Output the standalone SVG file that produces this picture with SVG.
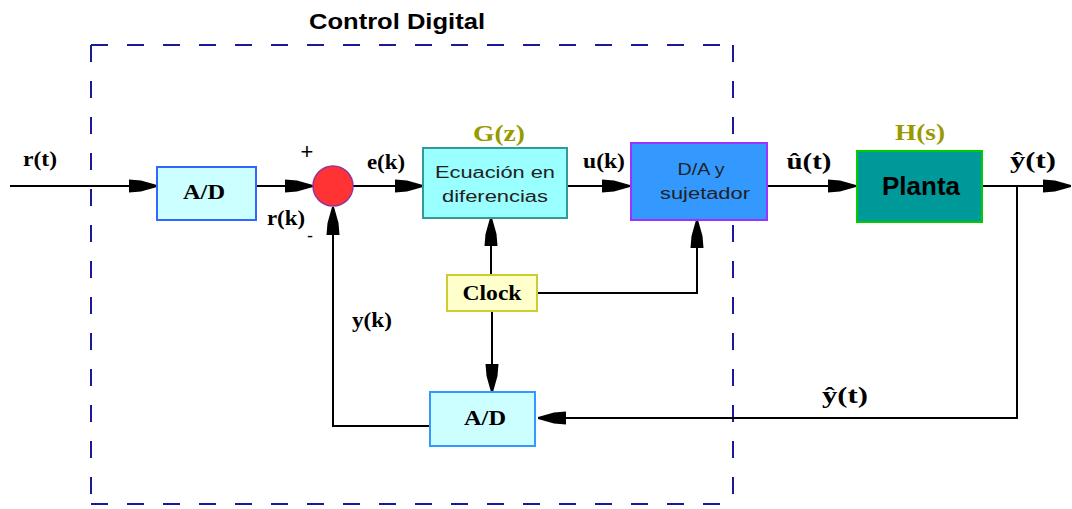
<svg xmlns="http://www.w3.org/2000/svg" width="1072" height="509" viewBox="0 0 1072 509">
<defs>
<marker id="ah" markerUnits="userSpaceOnUse" markerWidth="30" markerHeight="16" viewBox="-28 -8 30 16" refX="0" refY="0" orient="auto">
<path d="M-28,-6.5 L-16,-5.5 L0,-1 L0,1 L-16,5.5 L-28,6.5 Z" fill="#000"/>
</marker>
<style>
.ln{fill:none;stroke:#000;stroke-width:2}
.ar{marker-end:url(#ah)}
.lbl{font-family:"Liberation Serif","Times New Roman",serif;font-weight:bold;font-size:20px;fill:#000;text-anchor:middle}
.big{font-family:"Liberation Serif","Times New Roman",serif;font-weight:bold;font-size:24px;text-anchor:middle}
.sans{font-family:"Liberation Sans",Arial,sans-serif;font-size:16px;fill:#222;text-anchor:middle}
</style>
</defs>
<rect width="1072" height="509" fill="#fff"/>
<g id="frame">
<path d="M91,45 H733 M91,45 V503 M733,45 V503 M91,504 H733" fill="none" stroke="#1a1a99" stroke-width="2" stroke-dasharray="17 19"/>
<text x="397" y="29" font-family="Liberation Sans,Arial,sans-serif" font-weight="bold" font-size="22" text-anchor="middle" textLength="176" lengthAdjust="spacingAndGlyphs">Control Digital</text>
</g>
<g id="connectors">
<path class="ln ar" d="M10,186 H157"/>
<path class="ln ar" d="M256,186 H313"/>
<path class="ln ar" d="M353,186 H423"/>
<path class="ln ar" d="M567,186 H630"/>
<path class="ln ar" d="M767,186 H856"/>
<path class="ln ar" d="M982,186 H1071"/>
<path class="ln ar" d="M491,275 V218"/>
<path class="ln ar" d="M537,293 H697 V220"/>
<path class="ln ar" d="M492,311 V392"/>
<path class="ln ar" d="M430,426 H333 V207"/>
<path class="ln ar" d="M1017,186 V418 H538"/>
</g>
<g id="ad1">
<rect x="157" y="167" width="99" height="53" fill="#ccffff" stroke="#3366ff" stroke-width="2"/>
<text class="lbl" x="204" y="199" textLength="42" lengthAdjust="spacingAndGlyphs">A/D</text>
</g>
<g id="sum">
<circle cx="333" cy="186" r="20" fill="#ff3333" stroke="#993399" stroke-width="1.5"/>
<text x="307" y="159" font-family="Liberation Sans,Arial,sans-serif" font-size="22" text-anchor="middle">+</text>
<text x="310" y="242" font-family="Liberation Sans,Arial,sans-serif" font-size="18" text-anchor="middle">-</text>
</g>
<g id="gz">
<rect x="423" y="148" width="144" height="70" fill="#99ffff" stroke="#339999" stroke-width="2"/>
<text class="big" x="499" y="141" fill="#999900" textLength="52" lengthAdjust="spacingAndGlyphs">G(z)</text>
<text class="sans" x="495" y="178" textLength="120" lengthAdjust="spacingAndGlyphs">Ecuación en</text>
<text class="sans" x="495" y="202" textLength="106" lengthAdjust="spacingAndGlyphs">diferencias</text>
</g>
<g id="da">
<rect x="631" y="143" width="136" height="77" fill="#3399ff" stroke="#9933ff" stroke-width="2"/>
<text class="sans" x="701" y="175" textLength="47" lengthAdjust="spacingAndGlyphs">D/A y</text>
<text class="sans" x="705" y="199" textLength="90" lengthAdjust="spacingAndGlyphs">sujetador</text>
</g>
<g id="planta">
<rect x="857" y="151" width="125" height="71" fill="#009999" stroke="#00cc00" stroke-width="2"/>
<text class="big" x="920" y="140" fill="#999900" textLength="50" lengthAdjust="spacingAndGlyphs">H(s)</text>
<text x="921" y="195" font-family="Liberation Sans,Arial,sans-serif" font-weight="bold" font-size="25" text-anchor="middle" textLength="78" lengthAdjust="spacingAndGlyphs">Planta</text>
</g>
<g id="clock">
<rect x="447" y="275" width="90" height="36" fill="#ffffcc" stroke="#cccc33" stroke-width="2"/>
<text class="lbl" x="492" y="300" textLength="59" lengthAdjust="spacingAndGlyphs">Clock</text>
</g>
<g id="ad2">
<rect x="430" y="392" width="105" height="54" fill="#ccffff" stroke="#3399ff" stroke-width="2"/>
<text class="lbl" x="485" y="425" textLength="42" lengthAdjust="spacingAndGlyphs">A/D</text>
</g>
<g id="labels">
<text class="lbl" x="40" y="166" textLength="34" lengthAdjust="spacingAndGlyphs">r(t)</text>
<text class="lbl" x="286" y="225" textLength="38" lengthAdjust="spacingAndGlyphs">r(k)</text>
<text class="lbl" x="386" y="169" textLength="38" lengthAdjust="spacingAndGlyphs">e(k)</text>
<text class="lbl" x="604" y="168" textLength="42" lengthAdjust="spacingAndGlyphs">u(k)</text>
<text class="big" x="809" y="169" textLength="45" lengthAdjust="spacingAndGlyphs">û(t)</text>
<text class="big" x="1033" y="168" textLength="46" lengthAdjust="spacingAndGlyphs">ŷ(t)</text>
<text class="lbl" x="372" y="327" textLength="40" lengthAdjust="spacingAndGlyphs">y(k)</text>
<text class="big" x="845" y="403" textLength="46" lengthAdjust="spacingAndGlyphs">ŷ(t)</text>
</g>
</svg>
